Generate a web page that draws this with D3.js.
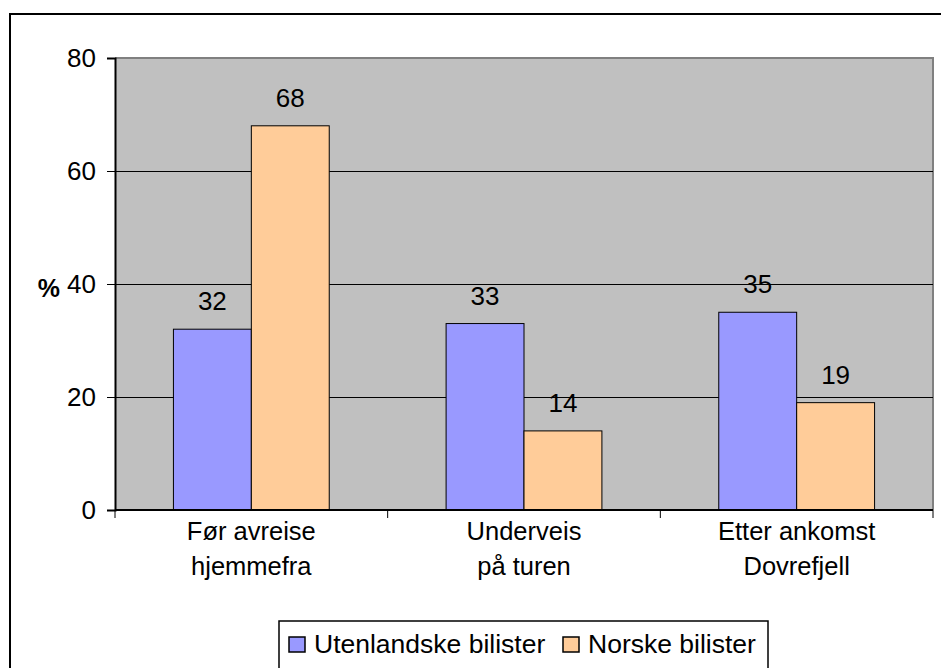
<!DOCTYPE html>
<html>
<head>
<meta charset="utf-8">
<script src="https://cdn.jsdelivr.net/npm/d3@7"></script>
<style>
  body { margin: 0; background: #fff; }
  svg { font-family: "Liberation Sans", Arial, sans-serif; }
</style>
</head>
<body>
<svg id="svg" width="941" height="668"></svg>
<script>
// data
const categories = [["Før avreise", "hjemmefra"], ["Underveis", "på turen"], ["Etter ankomst", "Dovrefjell"]];
const seriesNames = ["Utenlandske bilister", "Norske bilister"];
const utenlandske = [32, 33, 35];
const norske = [68, 14, 19];
const yTicks = [0, 20, 40, 60, 80];
const colors = ["#9999FF", "#FFCC99"];

const svg = d3.select("#svg");

var plot = {left: 115, top: 58, right: 933, bottom: 510};

// outer frame, runs off the right and bottom edge
svg.append("rect")
  .attr("x", 10).attr("y", 14)
  .attr("width", 1000).attr("height", 1000)
  .attr("fill", "none")
  .attr("stroke", "#000")
  .attr("stroke-width", 2);

var x0 = d3.scaleBand()
  .domain(d3.range(categories.length))
  .range([plot.left, plot.right]);

// excel style: gap width 150%
var barW = x0.bandwidth() / 3.5;

var y = d3.scaleLinear().domain([0, 80]).range([plot.bottom, plot.top]);

// plot background
svg.append("rect")
  .attr("x", plot.left).attr("y", plot.top)
  .attr("width", plot.right - plot.left)
  .attr("height", plot.bottom - plot.top)
  .attr("fill", "#C0C0C0");

// top and right border in grey
svg.append("path")
  .attr("d", "M" + plot.left + "," + plot.top + "H" + plot.right + "V" + plot.bottom)
  .attr("fill", "none")
  .attr("stroke", "#808080")
  .attr("stroke-width", 2);

// gridlines
svg.append("g")
  .selectAll("line")
  .data(yTicks.filter(d => d > 0 && d < 80))
  .enter().append("line")
    .attr("x1", plot.left).attr("x2", plot.right)
    .attr("y1", d => Math.round(y(d)) + 0.5)
    .attr("y2", d => Math.round(y(d)) + 0.5)
    .attr("stroke", "#000");

// bars
const series = [utenlandske, norske];
series.forEach(function(vals, si) {
  const g = svg.append("g");
  g.selectAll("rect")
    .data(vals)
    .enter().append("rect")
      .attr("x", (d, i) => x0(i) + barW * 0.75 + si * barW)
      .attr("y", d => y(d))
      .attr("width", barW)
      .attr("height", d => y(0) - y(d))
      .attr("fill", colors[si])
      .attr("stroke", "#000")
      .attr("stroke-width", 1);

  g.selectAll("text")
    .data(vals)
    .enter().append("text")
      .attr("x", (d, i) => x0(i) + barW * 1.25 + si * barW)
      .attr("y", d => y(d) - 19)
      .attr("text-anchor", "middle")
      .style("font-size", "26px")
      .text(d => d);
});

// y axis
const yAxis = svg.append("g")
  .attr("transform", "translate(" + plot.left + ",0)")
  .call(d3.axisLeft(y).tickValues(yTicks).tickSize(8).tickPadding(11));
yAxis.select(".domain").attr("stroke", "#000").attr("stroke-width", 2);
yAxis.selectAll("text").style("font-size", "26px").attr("fill", "#000").attr("font-family", null);

svg.append("text")
  .attr("x", 60).attr("y", y(40) + 13)
  .attr("text-anchor", "end")
  .style("font-size", "25px")
  .style("font-weight", "bold")
  .text("%");

// x axis
svg.append("line")
  .attr("x1", plot.left).attr("x2", plot.right)
  .attr("y1", plot.bottom).attr("y2", plot.bottom)
  .attr("stroke", "#000").attr("stroke-width", 2);

svg.append("g")
  .selectAll("line")
  .data(d3.range(categories.length + 1))
  .enter().append("line")
    .attr("x1", i => plot.left + i * x0.step())
    .attr("x2", i => plot.left + i * x0.step())
    .attr("y1", plot.bottom).attr("y2", plot.bottom + 8)
    .attr("stroke", "#000");

const catLabels = svg.append("g")
  .selectAll("text")
  .data(categories)
  .enter().append("text")
    .attr("x", (d, i) => x0(i) + x0.bandwidth() / 2)
    .attr("y", 540)
    .attr("text-anchor", "middle")
    .style("font-size", "25.5px");
catLabels.selectAll("tspan")
  .data(d => d)
  .enter().append("tspan")
    .attr("x", function() { return d3.select(this.parentNode).attr("x"); })
    .attr("dy", (d, i) => i ? 35 : 0)
    .text(d => d);

// legend
const legend = svg.append("g");
legend.append("rect")
  .attr("x", 279).attr("y", 621)
  .attr("width", 489).attr("height", 60)
  .attr("fill", "#fff")
  .attr("stroke", "#000")
  .attr("stroke-width", 1.5);

const legX = [289, 563];
seriesNames.forEach(function(name, i) {
  legend.append("rect")
    .attr("x", legX[i]).attr("y", 637)
    .attr("width", 16).attr("height", 15)
    .attr("fill", colors[i])
    .attr("stroke", "#000")
    .attr("stroke-width", 1.5);
  legend.append("text")
    .attr("x", legX[i] + 25).attr("y", 653)
    .style("font-size", "26.5px")
    .text(name);
});
</script>
</body>
</html>
